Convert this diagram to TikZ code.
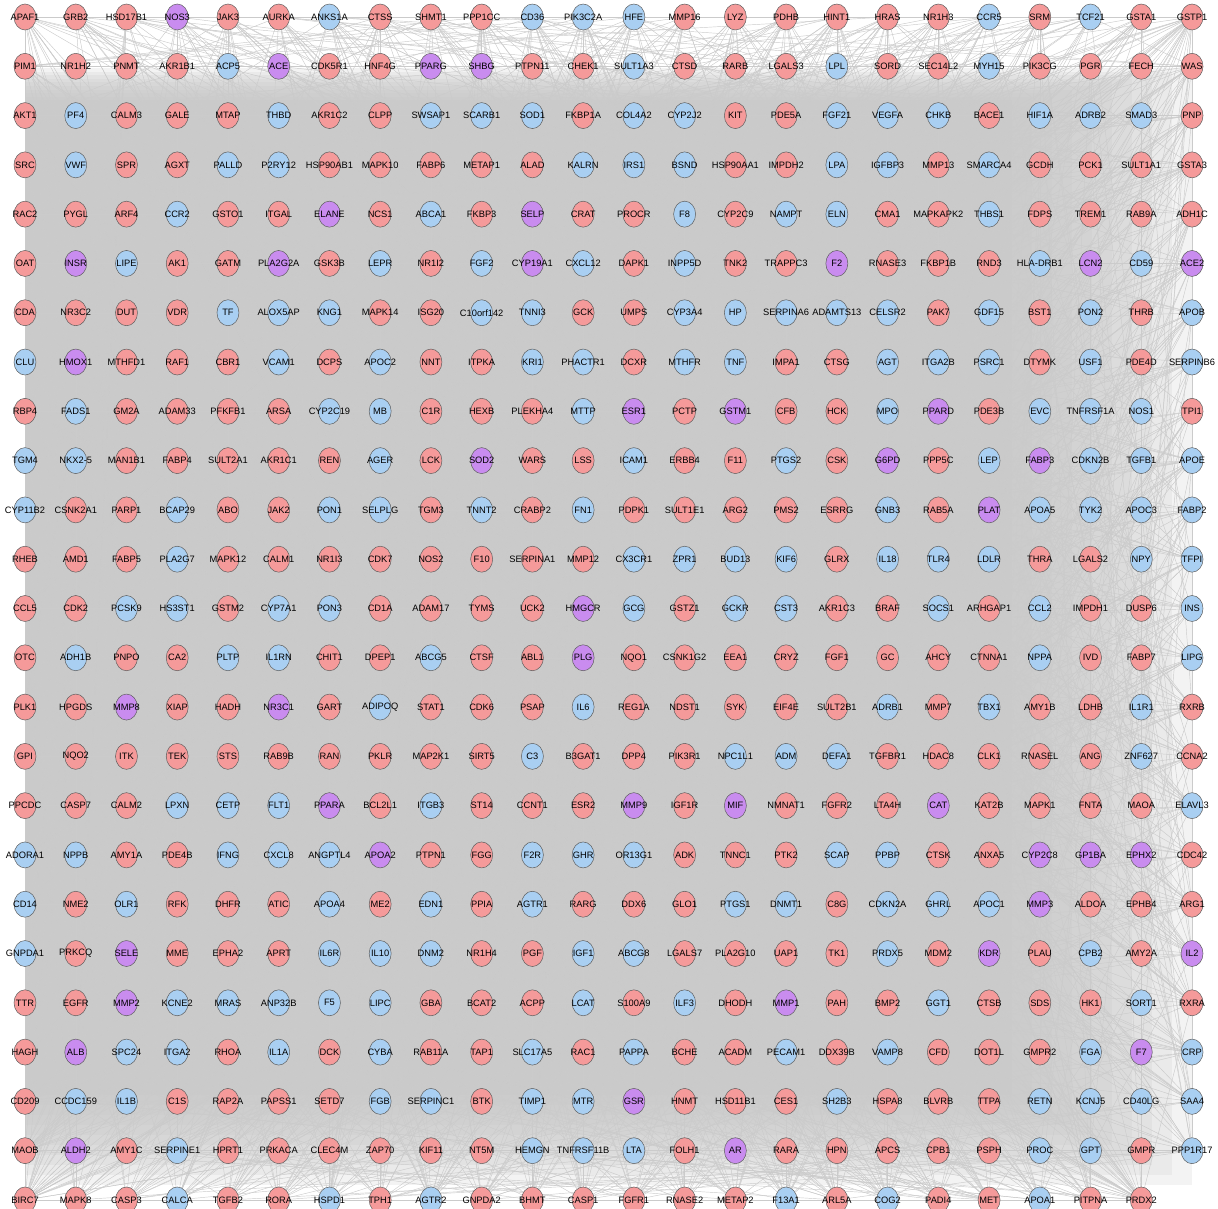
\documentclass[tikz,border=0pt]{standalone}
\usepackage{fontspec}
\setmainfont{Liberation Sans}
\usetikzlibrary{shapes.geometric,backgrounds}
\definecolor{upred}{HTML}{F59A9A}
\definecolor{downblue}{HTML}{A9CFF2}
\definecolor{bothpurple}{HTML}{C98CEF}
\definecolor{nodeline}{HTML}{5E5E5E}
\definecolor{linkgray}{HTML}{CBCBCB}
\definecolor{meshgray}{HTML}{C4C4C4}
% one row of genes: #1 = row index (0 = top), #2 = name/colour list
\newcommand{\generow}[2]{%
  \foreach \g/\t [count=\c from 0] in {#2} {%
    \pgfmathtruncatemacro{\idx}{#1*24+\c}%
    \node[gene,\t] (n\idx) at ({25+\c*50.74},{17+#1*49.29}) {\makebox[0pt]{\g}};}}

\begin{document}
\begin{tikzpicture}[x=1pt, y=-1pt,
  gene/.style={ellipse, draw=nodeline, line width=0.5pt, minimum width=22pt, minimum height=26pt, inner sep=0pt, font=\fontsize{9.3}{10}\selectfont},
  gr/.style={fill=upred}, gb/.style={fill=downblue}, gp/.style={fill=bothpurple},
  ppi/.style={draw=linkgray, line width=0.45pt},
  mesh/.style={fill=meshgray, fill opacity=0.2, draw=none}]
\useasboundingbox (0,0) rectangle (1218,1209);
\generow{0}{APAF1/gr,GRB2/gr,HSD17B1/gr,NOS3/gp,JAK3/gr,AURKA/gr,ANKS1A/gb,CTSS/gr,SHMT1/gr,PPP1CC/gr,CD36/gb,PIK3C2A/gb,HFE/gb,MMP16/gr,LYZ/gr,PDHB/gr,HINT1/gr,HRAS/gr,NR1H3/gr,CCR5/gb,SRM/gr,TCF21/gb,GSTA1/gr,GSTP1/gr}
\generow{1}{PIM1/gr,NR1H2/gr,PNMT/gr,AKR1B1/gr,ACP5/gb,ACE/gp,CDK5R1/gr,HNF4G/gr,PPARG/gp,SHBG/gp,PTPN11/gr,CHEK1/gr,SULT1A3/gb,CTSD/gr,RARB/gr,LGALS3/gr,LPL/gb,SORD/gr,SEC14L2/gr,MYH15/gb,PIK3CG/gr,PGR/gr,FECH/gr,WAS/gr}
\generow{2}{AKT1/gr,PF4/gb,CALM3/gr,GALE/gr,MTAP/gr,THBD/gb,AKR1C2/gr,CLPP/gr,SWSAP1/gb,SCARB1/gb,SOD1/gb,FKBP1A/gr,COL4A2/gb,CYP2J2/gb,KIT/gr,PDE5A/gr,FGF21/gb,VEGFA/gb,CHKB/gb,BACE1/gr,HIF1A/gb,ADRB2/gb,SMAD3/gb,PNP/gr}
\generow{3}{SRC/gr,VWF/gb,SPR/gr,AGXT/gr,PALLD/gb,P2RY12/gb,HSP90AB1/gr,MAPK10/gr,FABP6/gr,METAP1/gr,ALAD/gr,KALRN/gb,IRS1/gb,BSND/gb,HSP90AA1/gr,IMPDH2/gr,LPA/gb,IGFBP3/gb,MMP13/gr,SMARCA4/gb,GCDH/gr,PCK1/gr,SULT1A1/gr,GSTA3/gr}
\generow{4}{RAC2/gr,PYGL/gr,ARF4/gr,CCR2/gb,GSTO1/gr,ITGAL/gr,ELANE/gp,NCS1/gr,ABCA1/gb,FKBP3/gr,SELP/gp,CRAT/gr,PROCR/gr,F8/gb,CYP2C9/gr,NAMPT/gb,ELN/gb,CMA1/gr,MAPKAPK2/gr,THBS1/gb,FDPS/gr,TREM1/gr,RAB9A/gr,ADH1C/gr}
\generow{5}{OAT/gr,INSR/gp,LIPE/gb,AK1/gr,GATM/gr,PLA2G2A/gp,GSK3B/gr,LEPR/gb,NR1I2/gr,FGF2/gb,CYP19A1/gp,CXCL12/gb,DAPK1/gr,INPP5D/gb,TNK2/gr,TRAPPC3/gr,F2/gp,RNASE3/gr,FKBP1B/gr,RND3/gr,HLA-DRB1/gb,LCN2/gp,CD59/gb,ACE2/gp}
\generow{6}{CDA/gr,NR3C2/gr,DUT/gr,VDR/gr,TF/gb,ALOX5AP/gb,KNG1/gb,MAPK14/gr,ISG20/gr,C10orf142/gb,TNNI3/gb,GCK/gr,UMPS/gr,CYP3A4/gb,HP/gb,SERPINA6/gb,ADAMTS13/gb,CELSR2/gb,PAK7/gr,GDF15/gb,BST1/gr,PON2/gb,THRB/gr,APOB/gb}
\generow{7}{CLU/gb,HMOX1/gp,MTHFD1/gr,RAF1/gr,CBR1/gr,VCAM1/gb,DCPS/gr,APOC2/gb,NNT/gr,ITPKA/gr,KRI1/gb,PHACTR1/gb,DCXR/gr,MTHFR/gb,TNF/gb,IMPA1/gr,CTSG/gr,AGT/gb,ITGA2B/gb,PSRC1/gb,DTYMK/gr,USF1/gb,PDE4D/gr,SERPINB6/gb}
\generow{8}{RBP4/gr,FADS1/gb,GM2A/gr,ADAM33/gr,PFKFB1/gr,ARSA/gr,CYP2C19/gb,MB/gb,C1R/gr,HEXB/gr,PLEKHA4/gr,MTTP/gb,ESR1/gp,PCTP/gr,GSTM1/gp,CFB/gr,HCK/gr,MPO/gb,PPARD/gp,PDE3B/gr,EVC/gb,TNFRSF1A/gb,NOS1/gb,TPI1/gr}
\generow{9}{TGM4/gb,NKX2-5/gb,MAN1B1/gr,FABP4/gr,SULT2A1/gr,AKR1C1/gr,REN/gr,AGER/gb,LCK/gr,SOD2/gp,WARS/gr,LSS/gr,ICAM1/gb,ERBB4/gr,F11/gr,PTGS2/gb,CSK/gr,G6PD/gp,PPP5C/gr,LEP/gb,FABP3/gp,CDKN2B/gb,TGFB1/gb,APOE/gb}
\generow{10}{CYP11B2/gb,CSNK2A1/gr,PARP1/gr,BCAP29/gb,ABO/gr,JAK2/gr,PON1/gb,SELPLG/gb,TGM3/gr,TNNT2/gb,CRABP2/gr,FN1/gb,PDPK1/gr,SULT1E1/gr,ARG2/gr,PMS2/gr,ESRRG/gr,GNB3/gb,RAB5A/gr,PLAT/gp,APOA5/gb,TYK2/gb,APOC3/gb,FABP2/gb}
\generow{11}{RHEB/gr,AMD1/gr,FABP5/gr,PLA2G7/gb,MAPK12/gr,CALM1/gr,NR1I3/gr,CDK7/gr,NOS2/gr,F10/gr,SERPINA1/gr,MMP12/gr,CX3CR1/gb,ZPR1/gb,BUD13/gb,KIF6/gb,GLRX/gr,IL18/gb,TLR4/gb,LDLR/gb,THRA/gr,LGALS2/gr,NPY/gb,TFPI/gb}
\generow{12}{CCL5/gr,CDK2/gr,PCSK9/gb,HS3ST1/gb,GSTM2/gr,CYP7A1/gb,PON3/gb,CD1A/gr,ADAM17/gr,TYMS/gr,UCK2/gr,HMGCR/gp,GCG/gb,GSTZ1/gr,GCKR/gb,CST3/gb,AKR1C3/gr,BRAF/gr,SOCS1/gb,ARHGAP1/gr,CCL2/gb,IMPDH1/gr,DUSP6/gr,INS/gb}
\generow{13}{OTC/gr,ADH1B/gb,PNPO/gr,CA2/gr,PLTP/gb,IL1RN/gb,CHIT1/gr,DPEP1/gr,ABCG5/gb,CTSF/gr,ABL1/gr,PLG/gp,NQO1/gr,CSNK1G2/gr,EEA1/gr,CRYZ/gr,FGF1/gr,GC/gr,AHCY/gr,CTNNA1/gr,NPPA/gb,IVD/gr,FABP7/gr,LIPG/gb}
\generow{14}{PLK1/gr,HPGDS/gr,MMP8/gp,XIAP/gr,HADH/gr,NR3C1/gp,GART/gr,ADIPOQ/gb,STAT1/gr,CDK6/gr,PSAP/gr,IL6/gb,REG1A/gr,NDST1/gr,SYK/gr,EIF4E/gr,SULT2B1/gr,ADRB1/gb,MMP7/gr,TBX1/gb,AMY1B/gr,LDHB/gr,IL1R1/gb,RXRB/gr}
\generow{15}{GPI/gr,NQO2/gr,ITK/gr,TEK/gr,STS/gr,RAB9B/gr,RAN/gr,PKLR/gr,MAP2K1/gr,SIRT5/gr,C3/gb,B3GAT1/gr,DPP4/gr,PIK3R1/gr,NPC1L1/gb,ADM/gb,DEFA1/gb,TGFBR1/gr,HDAC8/gr,CLK1/gr,RNASEL/gr,ANG/gr,ZNF627/gb,CCNA2/gr}
\generow{16}{PPCDC/gr,CASP7/gr,CALM2/gr,LPXN/gb,CETP/gb,FLT1/gb,PPARA/gp,BCL2L1/gr,ITGB3/gb,ST14/gr,CCNT1/gr,ESR2/gr,MMP9/gp,IGF1R/gr,MIF/gp,NMNAT1/gr,FGFR2/gr,LTA4H/gr,CAT/gp,KAT2B/gr,MAPK1/gr,FNTA/gr,MAOA/gr,ELAVL3/gb}
\generow{17}{ADORA1/gb,NPPB/gb,AMY1A/gr,PDE4B/gr,IFNG/gb,CXCL8/gb,ANGPTL4/gb,APOA2/gp,PTPN1/gr,FGG/gr,F2R/gb,GHR/gb,OR13G1/gb,ADK/gr,TNNC1/gr,PTK2/gr,SCAP/gb,PPBP/gb,CTSK/gr,ANXA5/gr,CYP2C8/gp,GP1BA/gp,EPHX2/gp,CDC42/gr}
\generow{18}{CD14/gb,NME2/gr,OLR1/gb,RFK/gr,DHFR/gr,ATIC/gr,APOA4/gb,ME2/gr,EDN1/gb,PPIA/gr,AGTR1/gb,RARG/gr,DDX6/gr,GLO1/gr,PTGS1/gb,DNMT1/gb,C8G/gr,CDKN2A/gb,GHRL/gb,APOC1/gb,MMP3/gp,ALDOA/gr,EPHB4/gr,ARG1/gr}
\generow{19}{GNPDA1/gb,PRKCQ/gr,SELE/gp,MME/gr,EPHA2/gr,APRT/gr,IL6R/gb,IL10/gb,DNM2/gb,NR1H4/gr,PGF/gr,IGF1/gb,ABCG8/gb,LGALS7/gr,PLA2G10/gr,UAP1/gr,TK1/gr,PRDX5/gb,MDM2/gr,KDR/gp,PLAU/gr,CPB2/gb,AMY2A/gr,IL2/gp}
\generow{20}{TTR/gr,EGFR/gr,MMP2/gp,KCNE2/gb,MRAS/gb,ANP32B/gb,F5/gb,LIPC/gb,GBA/gr,BCAT2/gr,ACPP/gr,LCAT/gb,S100A9/gr,ILF3/gb,DHODH/gr,MMP1/gp,PAH/gr,BMP2/gr,GGT1/gb,CTSB/gr,SDS/gr,HK1/gr,SORT1/gb,RXRA/gr}
\generow{21}{HAGH/gr,ALB/gp,SPC24/gb,ITGA2/gb,RHOA/gr,IL1A/gb,DCK/gr,CYBA/gb,RAB11A/gr,TAP1/gr,SLC17A5/gb,RAC1/gr,PAPPA/gb,BCHE/gr,ACADM/gr,PECAM1/gb,DDX39B/gr,VAMP8/gb,CFD/gr,DOT1L/gr,GMPR2/gr,FGA/gb,F7/gp,CRP/gb}
\generow{22}{CD209/gr,CCDC159/gb,IL1B/gb,C1S/gr,RAP2A/gr,PAPSS1/gr,SETD7/gr,FGB/gb,SERPINC1/gb,BTK/gr,TIMP1/gb,MTR/gb,GSR/gp,HNMT/gr,HSD11B1/gr,CES1/gr,SH2B3/gb,HSPA8/gr,BLVRB/gr,TTPA/gr,RETN/gb,KCNJ5/gb,CD40LG/gb,SAA4/gb}
\generow{23}{MAOB/gr,ALDH2/gp,AMY1C/gr,SERPINE1/gb,HPRT1/gr,PRKACA/gr,CLEC4M/gr,ZAP70/gr,KIF11/gr,NT5M/gr,HEMGN/gb,TNFRSF11B/gb,LTA/gb,FOLH1/gr,AR/gp,RARA/gr,HPN/gr,APCS/gr,CPB1/gr,PSPH/gr,PROC/gb,GPT/gb,GMPR/gr,PPP1R17/gb}
\generow{24}{BIRC7/gr,MAPK8/gr,CASP3/gr,CALCA/gb,TGFB2/gr,RORA/gr,HSPD1/gb,TPH1/gr,AGTR2/gb,GNPDA2/gr,BHMT/gr,CASP1/gr,FGFR1/gr,RNASE2/gr,METAP2/gr,F13A1/gb,ARL5A/gr,COG2/gb,PADI4/gr,MET/gr,APOA1/gb,PITPNA/gr,PRDX2/gr}
\begin{pgfonlayer}{background}
% dense core of the interaction mesh, thinning out to the right and bottom
\foreach \k in {0,...,9}
  \fill[mesh] (25,{68+\k*3.6}) rectangle ({1192-\k*20},{1185-\k*10});
\pgfmathsetseed{4217}
% interactions fanning out of the outer ring
\foreach \s in {0,...,23} {
  \foreach \j in {1,...,14} {
    \pgfmathrandominteger{\b}{24}{598}
    \draw[ppi] (n\s) -- (n\b);
    \pgfmathtruncatemacro{\l}{(\s+1)*24}
    \pgfmathrandominteger{\b}{0}{598}
    \draw[ppi] (n\l) -- (n\b);
    \pgfmathtruncatemacro{\rr}{\s*24+23}
    \pgfmathrandominteger{\b}{0}{598}
    \draw[ppi] (n\rr) -- (n\b);
    \pgfmathtruncatemacro{\bt}{min(576+\s,598)}
    \pgfmathrandominteger{\b}{0}{575}
    \draw[ppi] (n\bt) -- (n\b);
  }
}
% interactions inside the grid
\foreach \j in {1,...,500} {
  \pgfmathrandominteger{\a}{0}{598}
  \pgfmathrandominteger{\b}{0}{598}
  \draw[ppi] (n\a) -- (n\b);
}
\draw[ppi] (n0) -- (n23); \draw[ppi] (n0) -- (n576);
\draw[ppi] (n23) -- (n575); \draw[ppi] (n576) -- (n598);
\end{pgfonlayer}
\end{tikzpicture}
\end{document}
